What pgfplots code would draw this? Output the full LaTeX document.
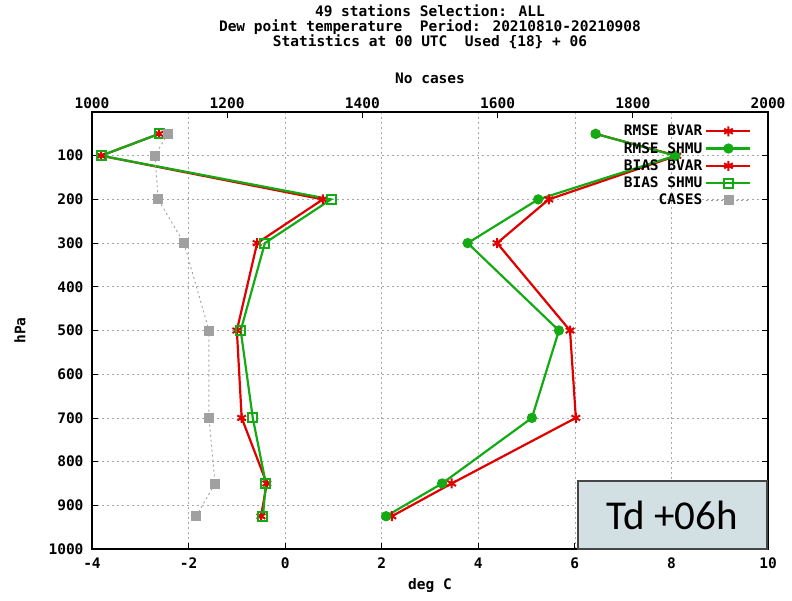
\documentclass[border=0pt]{standalone}
\usepackage{pgfplots}
\pgfplotsset{compat=1.18}
\usepackage{fontspec}
\newfontfamily\gp{DejaVu Sans Mono}
\newfontfamily\tdfont{Carlito}
\definecolor{gpred}{RGB}{225,0,0}
\definecolor{gpgreen}{RGB}{20,170,20}
\definecolor{gpgray}{RGB}{160,160,160}
\definecolor{boxfill}{RGB}{210,223,227}
\definecolor{boxedge}{RGB}{70,70,70}
\newcommand{\gpfont}{\gp\bfseries\fontsize{14.5}{15}\selectfont}
\pgfplotsset{
  every axis/.append style={font=\gpfont},
  /pgf/number format/assume math mode=true,
  /pgf/number format/1000 sep={},
}
\begin{document}
\begin{tikzpicture}
\path[use as bounding box] (-92pt,-51pt) rectangle (700pt,549pt);
\begin{axis}[
  at={(0,0)}, anchor=south west,
  scale only axis, width=676pt, height=437pt,
  xmin=-4, xmax=10, ymin=0, ymax=1000, y dir=reverse,
  xtick={-4,-2,...,10}, ytick={100,200,...,1000},
  xtick pos=left, xticklabel pos=left, ytick pos=both, yticklabel pos=left,
  xticklabel style={yshift=-5pt}, yticklabel style={xshift=-5pt},
  grid=major,
  major grid style={gray!70, dash pattern=on 2pt off 3pt, line width=0.7pt},
  tick style={black, line width=0.8pt}, major tick length=6pt,
  axis line style={black, line width=1.2pt},
  xlabel={deg C}, xlabel style={at={(axis description cs:0.5,-0.084)}, anchor=center},
  ylabel={hPa}, ylabel style={at={(axis description cs:-0.1065,0.5)}, anchor=center},
  legend style={at={(0.976,0.975)}, anchor=north east, draw=none, fill=none, font=\gpfont, row sep=1pt, inner sep=0pt,
    nodes={inner xsep=3pt}},
  legend cell align=right, legend plot pos=right,
  legend image code/.code={\draw[mark repeat=2,mark phase=2,#1] plot coordinates {(0pt,0pt) (22pt,0pt) (44pt,0pt)};},
]
\addplot[gpred, line width=2.2pt, mark=asterisk, mark size=5pt, mark options={line width=2pt}] coordinates {
 (6.43,50) (8.11,100) (5.46,200) (4.39,300) (5.90,500) (6.02,700) (3.45,850) (2.21,925)};
\addlegendentry{RMSE BVAR}
\addplot[gpgreen, line width=2.2pt, mark=*, mark size=4pt] coordinates {
 (6.43,50) (8.08,100) (5.24,200) (3.78,300) (5.67,500) (5.11,700) (3.25,850) (2.09,925)};
\addlegendentry{RMSE SHMU}
\addplot[gpred, line width=2.2pt, mark=asterisk, mark size=5pt, mark options={line width=2pt}] coordinates {
 (-2.61,50) (-3.81,100) (0.78,200) (-0.58,300) (-1.00,500) (-0.90,700) (-0.38,850) (-0.50,925)};
\addlegendentry{BIAS BVAR}
\addplot[gpgreen, line width=2.2pt, mark=square, mark size=4.5pt, mark options={line width=2pt}] coordinates {
 (-2.61,50) (-3.81,100) (0.95,200) (-0.42,300) (-0.92,500) (-0.67,700) (-0.40,850) (-0.46,925)};
\addlegendentry{BIAS SHMU}
\addlegendimage{gpgray, dash pattern=on 2pt off 3pt, line width=0.9pt, mark=square*, mark size=4.5pt, mark options={solid}}
\addlegendentry{CASES}
\end{axis}
\begin{axis}[
  at={(0,0)}, anchor=south west,
  scale only axis, width=676pt, height=437pt,
  xmin=1000, xmax=2000, ymin=0, ymax=1000, y dir=reverse,
  xtick={1000,1200,...,2000}, ytick=\empty,
  xtick pos=right, xticklabel pos=right,
  tick style={black, line width=0.8pt}, major tick length=6pt,
  axis line style={black, line width=1.2pt},
  xlabel={No cases}, xlabel style={at={(axis description cs:0.5,1.078)}, anchor=center},
]
\addplot[gpgray, dash pattern=on 2pt off 3pt, line width=0.9pt, mark=square*, mark size=4.5pt, mark options={solid}] coordinates {
 (1112,50) (1093,100) (1098,200) (1136,300) (1173,500) (1173,700) (1182,850) (1154,925)};
\end{axis}
\node[font=\gpfont, align=center] at (338pt,522pt) {49 stations Selection: ALL\\Dew point temperature\ \ Period: 20210810-20210908\\Statistics at 00 UTC\ \ Used \{18\} + 06};
\fill[boxfill] (486pt,0pt) rectangle (675pt,68pt);
\draw[boxedge, line width=1.5pt] (486pt,0pt) rectangle (675pt,68pt);
\node[font=\tdfont\fontsize{41}{41}\selectfont] at (580pt,34pt) {Td +06h};
\end{tikzpicture}
\end{document}
